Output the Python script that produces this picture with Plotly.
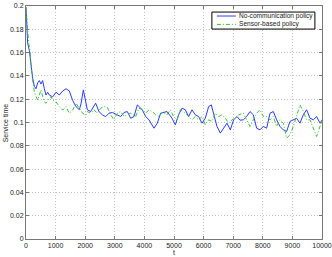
import plotly.graph_objects as go

# No-communication policy (blue, solid)
t_nc = [0, 34, 56, 113, 169, 225, 282, 338, 394, 450, 507, 563, 619, 676, 732, 788, 901,
        1013, 1126, 1239, 1351, 1464, 1576, 1689, 1802, 1858, 1937, 2005, 2072, 2184, 2353,
        2466, 2578, 2691, 2804, 2916, 3085, 3198, 3311, 3423, 3536, 3649, 3761, 3930, 4042,
        4155, 4324, 4436, 4549, 4763, 4932, 5044, 5157, 5270, 5382, 5495, 5608, 5720, 5833,
        5946, 6058, 6171, 6260, 6339, 6452, 6565, 6677, 6790, 6902, 7015, 7128, 7229, 7342,
        7454, 7567, 7679, 7792, 7905, 8017, 8130, 8243, 8355, 8468, 8580, 8693, 8805, 8918,
        9031, 9143, 9256, 9368, 9481, 9594, 9706, 9819, 9932, 10000]
y_nc = [0.199, 0.179, 0.168, 0.162, 0.148, 0.138, 0.131, 0.129, 0.134, 0.136, 0.133, 0.136,
        0.129, 0.1236, 0.126, 0.1236, 0.122, 0.126, 0.1236, 0.127, 0.129, 0.127, 0.119,
        0.1136, 0.111, 0.116, 0.128, 0.118, 0.1109, 0.1094, 0.1166, 0.1094, 0.1066, 0.1051,
        0.108, 0.1086, 0.1066, 0.1051, 0.1086, 0.1094, 0.1037, 0.1051, 0.1151, 0.1109,
        0.1051, 0.1023, 0.0951, 0.0994, 0.108, 0.1094, 0.1037, 0.098, 0.1066, 0.1123,
        0.1109, 0.1051, 0.1109, 0.1066, 0.1051, 0.0994, 0.1037, 0.1137, 0.1151, 0.108,
        0.0966, 0.0909, 0.0951, 0.0994, 0.0937, 0.1023, 0.1051, 0.102, 0.1023, 0.1051,
        0.1094, 0.1066, 0.0951, 0.0937, 0.0966, 0.0951, 0.108, 0.1094, 0.1023, 0.0966,
        0.0937, 0.0923, 0.1009, 0.1023, 0.1037, 0.0994, 0.1066, 0.1109, 0.1037, 0.1023,
        0.1051, 0.0994, 0.1023]

# Sensor-based policy (green, dash-dot)
t_sb = [0, 56, 90, 135, 169, 225, 282, 338, 394, 450, 507, 563, 619, 676, 732, 788, 845,
        901, 1013, 1126, 1239, 1351, 1464, 1576, 1689, 1802, 1914, 2027, 2072, 2184, 2297,
        2409, 2522, 2635, 2747, 2860, 2973, 3085, 3198, 3311, 3423, 3536, 3704, 3817, 3930,
        4042, 4155, 4267, 4380, 4492, 4605, 4763, 4876, 4988, 5101, 5213, 5382, 5495, 5608,
        5720, 5833, 5946, 6058, 6171, 6283, 6396, 6508, 6621, 6733, 6846, 6959, 7071, 7184,
        7342, 7454, 7567, 7679, 7792, 7905, 8017, 8130, 8243, 8355, 8468, 8580, 8693, 8805,
        8918, 9031, 9143, 9256, 9368, 9481, 9594, 9706, 9819, 9932, 10000]
y_sb = [0.199, 0.1765, 0.168, 0.162, 0.148, 0.1365, 0.1265, 0.1222, 0.1193, 0.1236, 0.128,
        0.1222, 0.1179, 0.1165, 0.1193, 0.1208, 0.1222, 0.1193, 0.1179, 0.1136, 0.1107,
        0.1136, 0.1079, 0.1107, 0.1165, 0.1122, 0.1079, 0.1064, 0.1094, 0.108, 0.1109,
        0.108, 0.1123, 0.1137, 0.1131, 0.1066, 0.1023, 0.108, 0.1094, 0.1051, 0.1066,
        0.108, 0.1051, 0.1123, 0.1109, 0.108, 0.1109, 0.1094, 0.1066, 0.1051, 0.1086,
        0.1066, 0.1109, 0.1051, 0.1023, 0.1109, 0.108, 0.1051, 0.1023, 0.1051, 0.1023,
        0.1051, 0.098, 0.1023, 0.1009, 0.108, 0.1051, 0.1066, 0.1037, 0.0994, 0.1023,
        0.1037, 0.1066, 0.108, 0.1023, 0.0966, 0.1023, 0.108, 0.1109, 0.1051, 0.1051,
        0.1023, 0.1051, 0.0966, 0.1023, 0.0994, 0.0866, 0.0894, 0.0966, 0.1051, 0.1151,
        0.1094, 0.1023, 0.1023, 0.0951, 0.088, 0.0966, 0.1023]

series_names = ["No-communication policy", "Sensor-based policy"]
series_colors = ["#2a3cff", "#3cbf3c"]
series_dashes = ["solid", "4px,2px,1px,2px"]

x_ticks = list(range(0, 10001, 1000))
x_tick_labels = [str(v) for v in x_ticks]
y_ticks = [0, 0.02, 0.04, 0.06, 0.08, 0.1, 0.12, 0.14, 0.16, 0.18, 0.2]
y_tick_labels = ["0", "0.02", "0.04", "0.06", "0.08", "0.1", "0.12", "0.14", "0.16", "0.18", "0.2"]

FONT = "Liberation Sans, Arial, sans-serif"
TXT = "#222222"

fig = go.Figure()
for tx, ty, nm, col, dsh in zip([t_nc, t_sb], [y_nc, y_sb], series_names, series_colors, series_dashes):
    fig.add_trace(go.Scatter(x=tx, y=ty, mode="lines", name=nm, showlegend=False,
                             hoverinfo="skip",
                             line=dict(color=col, width=1, dash=dsh)))

axis_common = dict(showgrid=True, gridcolor="#c4c4c4", griddash="1px,2px", gridwidth=1,
                   zeroline=False, showline=True, linecolor="#777777", linewidth=1,
                   mirror="ticks", ticks="inside", ticklen=3, tickcolor="#777777",
                   automargin=False,
                   tickfont=dict(family=FONT, size=7, color=TXT))

# legend drawn as box + samples + text (paper coordinates)
lg_x0, lg_x1, lg_y0, lg_y1 = 0.628, 0.976, 0.901, 0.974
sample_x0, sample_x1, text_x = 0.645, 0.709, 0.714
row_y = [0.957, 0.921]
shapes = [dict(type="rect", xref="paper", yref="paper", x0=lg_x0, x1=lg_x1, y0=lg_y0, y1=lg_y1,
               line=dict(color="black", width=1), fillcolor="white", layer="above")]
annotations = []
for nm, col, dsh, ry in zip(series_names, series_colors, series_dashes, row_y):
    shapes.append(dict(type="line", xref="paper", yref="paper", x0=sample_x0, x1=sample_x1,
                       y0=ry, y1=ry, line=dict(color=col, width=1, dash=dsh), layer="above"))
    annotations.append(dict(text=nm, xref="paper", yref="paper", x=text_x, y=ry,
                            xanchor="left", yanchor="middle", showarrow=False,
                            font=dict(family=FONT, size=6.6, color=TXT)))

annotations.append(dict(text="t", xref="paper", yref="paper", x=0.5, y=-0.0773,
                        xanchor="center", yanchor="bottom", showarrow=False, borderpad=0,
                        font=dict(family=FONT, size=7, color=TXT)))
annotations.append(dict(text="Service time", xref="paper", yref="paper", x=-0.068, y=0.5,
                        xanchor="center", yanchor="middle", textangle=-90, showarrow=False,
                        font=dict(family=FONT, size=7, color=TXT)))

fig.update_layout(
    width=332, height=257,
    margin=dict(l=26, r=10, t=6, b=18),
    paper_bgcolor="white", plot_bgcolor="white",
    font=dict(family=FONT, size=7, color=TXT),
    xaxis=dict(range=[0, 10000], tickvals=x_ticks, ticktext=x_tick_labels, **axis_common),
    yaxis=dict(range=[0, 0.2], tickvals=y_ticks, ticktext=y_tick_labels, **axis_common),
    shapes=shapes, annotations=annotations,
    showlegend=False, hovermode=False,
)

fig.write_html("out.html", config={"displayModeBar": False, "staticPlot": True},
               post_script="document.body.style.margin='0';document.body.style.overflow='hidden';")
